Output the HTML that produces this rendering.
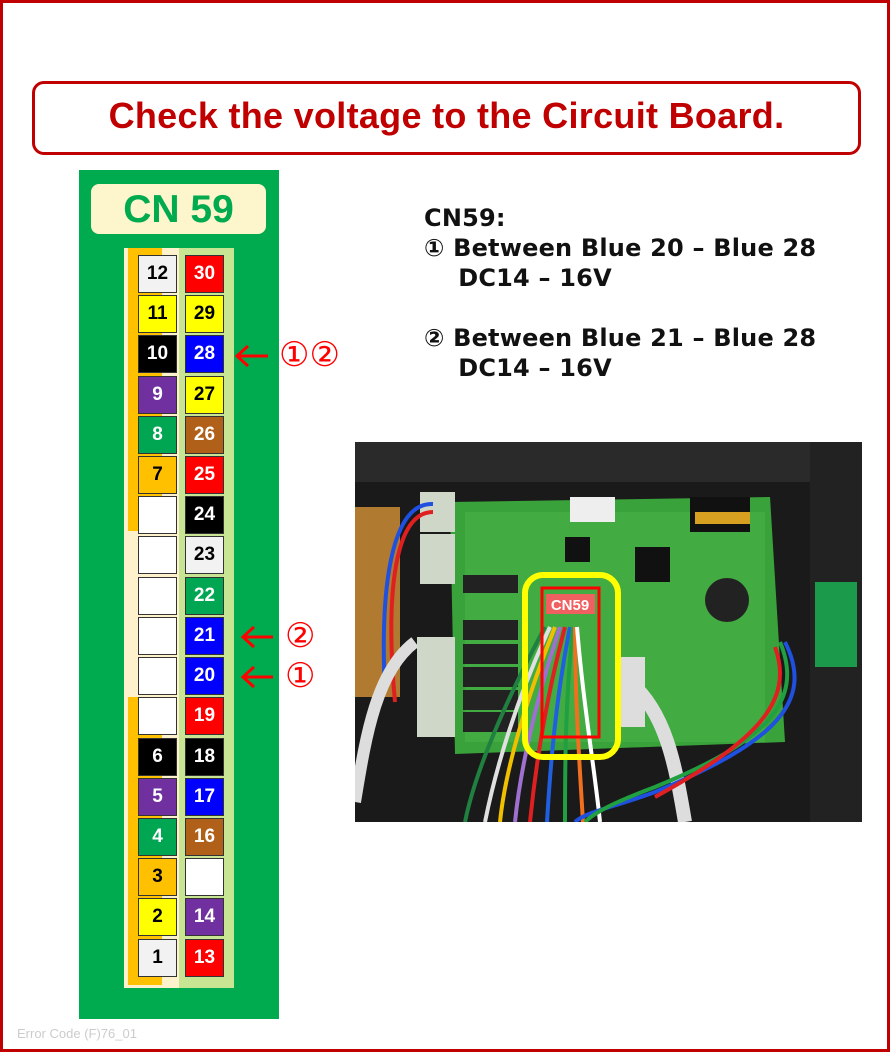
<!DOCTYPE html>
<html><head><meta charset="utf-8"><style>
*{margin:0;padding:0;box-sizing:border-box}
body{width:890px;height:1052px;position:relative;background:#fff;font-family:"Liberation Sans","DejaVu Sans",sans-serif;overflow:hidden}
.frame{position:absolute;left:0;top:0;width:890px;height:1052px;border:3px solid #c00000}
.title{position:absolute;left:32px;top:81px;width:829px;height:74px;border:3px solid #c00000;border-radius:12px;color:#c00000;font-weight:bold;font-size:36px;text-align:center;line-height:64px;letter-spacing:0.3px}
.panel{position:absolute;left:79px;top:170px;width:200px;height:849px;background:#00aa4f}
.lbl{position:absolute;left:91px;top:184px;width:175px;height:50px;background:#fdf5cc;border-radius:8px;color:#00aa4f;font-weight:bold;font-size:39px;text-align:center;line-height:52px}
.strip{position:absolute;top:248px;height:740px}
.b{position:absolute;width:39px;height:38px;border:1.5px solid #333;font-weight:bold;font-size:19px;text-align:center;line-height:36px}
.w{color:#fff}.k{color:#000}
.t{position:absolute;font-weight:bold;font-size:24px;color:#111;left:424px;white-space:pre;font-family:"DejaVu Sans","Liberation Sans",sans-serif;letter-spacing:0.2px}
.ar{position:absolute;color:#f00;font-size:34px;font-family:"DejaVu Sans",sans-serif;line-height:1}
.foot{position:absolute;left:17px;top:1026px;font-size:13px;color:#ccc}
</style></head><body>
<div class="frame"></div>
<div class="title">Check the voltage to the Circuit Board.</div>
<div class="panel"></div>
<div class="lbl">CN 59</div>
<div class="strip" style="left:124px;width:55px;background:#fdf2cc"></div>
<div class="strip" style="left:179px;width:55px;background:#c8e594"></div>
<div style="position:absolute;left:128px;top:248px;width:34px;height:283px;background:#ffc000"></div>
<div style="position:absolute;left:128px;top:697px;width:34px;height:288px;background:#ffc000"></div>

<div class="b k" style="left:138px;top:255px;background:#f2f2f2">12</div>
<div class="b k" style="left:138px;top:295px;background:#ff0">11</div>
<div class="b w" style="left:138px;top:335px;background:#000">10</div>
<div class="b w" style="left:138px;top:376px;background:#7030a0">9</div>
<div class="b w" style="left:138px;top:416px;background:#00a651">8</div>
<div class="b k" style="left:138px;top:456px;background:#ffc000">7</div>
<div class="b" style="left:138px;top:496px;background:#fff"></div>
<div class="b" style="left:138px;top:536px;background:#fff"></div>
<div class="b" style="left:138px;top:577px;background:#fff"></div>
<div class="b" style="left:138px;top:617px;background:#fff"></div>
<div class="b" style="left:138px;top:657px;background:#fff"></div>
<div class="b" style="left:138px;top:697px;background:#fff"></div>
<div class="b w" style="left:138px;top:738px;background:#000">6</div>
<div class="b w" style="left:138px;top:778px;background:#7030a0">5</div>
<div class="b w" style="left:138px;top:818px;background:#00a651">4</div>
<div class="b k" style="left:138px;top:858px;background:#ffc000">3</div>
<div class="b k" style="left:138px;top:898px;background:#ff0">2</div>
<div class="b k" style="left:138px;top:939px;background:#f2f2f2">1</div>

<div class="b w" style="left:185px;top:255px;background:#f00">30</div>
<div class="b k" style="left:185px;top:295px;background:#ff0">29</div>
<div class="b w" style="left:185px;top:335px;background:#00f">28</div>
<div class="b k" style="left:185px;top:376px;background:#ff0">27</div>
<div class="b w" style="left:185px;top:416px;background:#b06018">26</div>
<div class="b w" style="left:185px;top:456px;background:#f00">25</div>
<div class="b w" style="left:185px;top:496px;background:#000">24</div>
<div class="b k" style="left:185px;top:536px;background:#f2f2f2">23</div>
<div class="b w" style="left:185px;top:577px;background:#00a651">22</div>
<div class="b w" style="left:185px;top:617px;background:#00f">21</div>
<div class="b w" style="left:185px;top:657px;background:#00f">20</div>
<div class="b w" style="left:185px;top:697px;background:#f00">19</div>
<div class="b w" style="left:185px;top:738px;background:#000">18</div>
<div class="b w" style="left:185px;top:778px;background:#00f">17</div>
<div class="b w" style="left:185px;top:818px;background:#b06018">16</div>
<div class="b" style="left:185px;top:858px;background:#fff"></div>
<div class="b w" style="left:185px;top:898px;background:#7030a0">14</div>
<div class="b w" style="left:185px;top:939px;background:#f00">13</div>

<svg style="position:absolute;left:0;top:0" width="890" height="1052">
<g stroke="#f00" stroke-width="3" fill="none">
<path d="M237 356H268M248 346L237 356L248 366"/>
<path d="M243 637H273M254 627L243 637L254 647"/>
<path d="M243 677H273M254 667L243 677L254 687"/>
</g>
</svg>
<div class="ar" style="left:279px;top:338px">①②</div>
<div class="ar" style="left:285px;top:619px">②</div>
<div class="ar" style="left:285px;top:659px">①</div>

<div class="t" style="top:204px">CN59:</div>
<div class="t" style="top:234px">① Between Blue 20 – Blue 28</div>
<div class="t" style="top:264px">    DC14 – 16V</div>
<div class="t" style="top:324px">② Between Blue 21 – Blue 28</div>
<div class="t" style="top:354px">    DC14 – 16V</div>

<svg style="position:absolute;left:355px;top:442px" width="507" height="380" viewBox="0 0 507 380">
<rect width="507" height="380" fill="#1a1a1a"/>
<rect x="0" y="0" width="507" height="40" fill="#2a2a2a"/>
<rect x="0" y="65" width="45" height="190" fill="#b07a30"/>
<rect x="455" y="0" width="52" height="380" fill="#222"/>
<polygon points="95,60 415,55 430,300 100,312" fill="#3aa23a"/>
<rect x="110" y="70" width="300" height="230" fill="#48b048" opacity="0.6"/>
<rect x="210" y="95" width="25" height="25" fill="#111"/>
<rect x="280" y="105" width="35" height="35" fill="#111"/>
<rect x="335" y="55" width="60" height="35" fill="#111"/>
<rect x="340" y="70" width="55" height="12" fill="#d8a020"/>
<circle cx="372" cy="158" r="22" fill="#222"/>
<rect x="215" y="55" width="45" height="25" fill="#eee"/>
<g fill="#222"><rect x="108" y="133" width="55" height="18"/><rect x="108" y="178" width="55" height="20"/><rect x="108" y="202" width="55" height="20"/><rect x="108" y="225" width="55" height="20"/><rect x="108" y="248" width="55" height="20"/><rect x="108" y="270" width="55" height="20"/></g>
<rect x="65" y="50" width="35" height="40" fill="#cfd8c8"/>
<rect x="65" y="92" width="35" height="50" fill="#cfd8c8"/>
<rect x="62" y="195" width="38" height="100" fill="#cfd8c8"/>
<rect x="265" y="215" width="25" height="70" fill="#ddd"/>
<rect x="460" y="140" width="42" height="85" fill="#1a9a4a"/>
<g fill="none" stroke-width="4">
<path d="M78 70 C40 70 30 150 40 260" stroke="#e02020"/>
<path d="M78 62 C35 60 25 150 30 250" stroke="#2050e0"/>
<path d="M60 200 C20 230 10 300 0 360" stroke="#ddd" stroke-width="12"/>
<path d="M275 240 C310 270 320 320 330 380" stroke="#ddd" stroke-width="14"/>
<path d="M195 185 C160 260 140 330 130 380" stroke="#e0e0e0"/>
<path d="M200 185 C170 260 150 330 145 380" stroke="#f0c000"/>
<path d="M205 185 C180 260 165 330 160 380" stroke="#a070d0"/>
<path d="M210 185 C190 260 180 330 175 380" stroke="#e02020"/>
<path d="M215 185 C200 260 195 330 192 380" stroke="#2060e0"/>
<path d="M218 185 C210 260 210 330 210 380" stroke="#20a040"/>
<path d="M220 185 C220 260 225 330 228 380" stroke="#f07020"/>
<path d="M222 185 C228 260 240 330 245 380" stroke="#fff"/>
<path d="M190 185 C150 260 120 330 110 380" stroke="#208040"/>
<path d="M430 200 C460 260 420 300 300 350 C260 365 230 370 220 380" stroke="#2050e0"/>
<path d="M425 200 C450 260 410 300 300 345 C260 360 240 370 230 380" stroke="#20a040"/>
<path d="M420 205 C440 260 400 300 300 355" stroke="#e02020"/>
</g>
<rect x="170" y="133" width="93" height="182" rx="18" fill="none" stroke="#ffff00" stroke-width="6"/>
<rect x="187" y="146" width="57" height="149" fill="none" stroke="#f00" stroke-width="3"/>
<rect x="191" y="152" width="49" height="20" fill="#f06060"/>
<text x="215" y="168" fill="#fff" font-family="Liberation Sans,sans-serif" font-weight="bold" font-size="15" text-anchor="middle">CN59</text>
</svg>
<div class="foot">Error Code (F)76_01</div>
</body></html>
